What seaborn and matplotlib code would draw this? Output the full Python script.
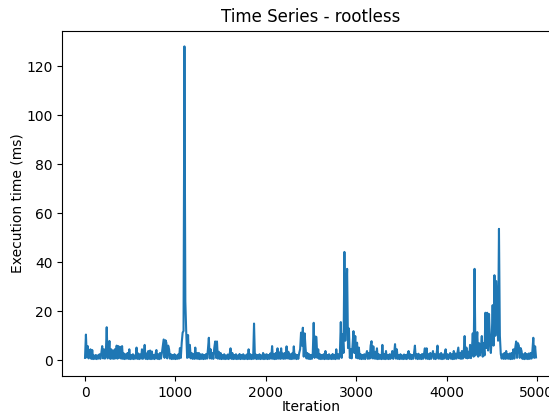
import matplotlib
matplotlib.use("Agg")
import matplotlib.pyplot as plt
import seaborn as sns
import numpy as np
import pandas as pd

# iterations sampled every 10 steps (0..4990)
iterations = list(range(0, 5000, 10))

exec_ms = [
    # 0-190
    1.0, 10.5, 1.2, 5.8, 0.8, 3.0, 4.5, 0.6, 4.2, 0.5, 2.0, 0.6, 2.2, 0.5, 2.0, 0.7, 2.5, 0.6, 2.8, 5.8,
    # 200-390
    0.8, 4.5, 0.7, 2.5, 13.5, 0.8, 3.0, 7.9, 0.6, 4.5, 0.7, 4.0, 0.6, 4.5, 0.8, 6.0, 0.7, 5.8, 1.0, 5.5,
    # 400-590
    0.7, 5.8, 0.6, 2.8, 0.5, 2.5, 0.7, 3.0, 0.6, 4.5, 0.5, 2.2, 0.6, 2.5, 0.5, 2.0, 0.7, 5.2, 0.6, 2.8,
    # 600-790
    0.5, 2.4, 0.7, 4.5, 0.6, 2.6, 6.3, 0.6, 2.8, 0.5, 3.8, 0.6, 4.0, 0.5, 3.6, 0.6, 2.2, 0.5, 2.6, 4.2,
    # 800-990
    0.6, 2.5, 0.5, 3.0, 0.7, 2.8, 5.5, 8.5, 1.0, 8.2, 7.2, 0.8, 6.0, 4.5, 0.7, 2.5, 0.5, 2.2, 0.6, 2.5,
    # 1000-1190
    0.5, 2.0, 0.6, 2.4, 0.7, 5.0, 1.0, 7.2, 11.3, 12.0, 128.0, 24.0, 11.3, 1.0, 10.3, 1.2, 6.3, 0.8, 3.0, 0.6,
    # 1200-1390
    2.5, 0.6, 5.2, 0.7, 3.0, 0.6, 3.0, 0.5, 2.5, 0.6, 2.5, 0.5, 2.2, 0.6, 2.6, 0.7, 4.5, 9.2, 0.8, 4.5,
    # 1400-1590
    0.7, 3.0, 0.6, 5.0, 7.7, 1.0, 7.7, 0.7, 3.5, 0.6, 3.0, 0.5, 2.2, 0.6, 2.5, 0.5, 2.0, 0.6, 2.4, 0.5,
    # 1600-1790
    2.5, 4.9, 0.6, 3.0, 0.5, 2.2, 0.6, 2.5, 0.5, 2.0, 0.6, 2.6, 0.5, 2.2, 0.6, 2.5, 0.5, 2.0, 0.6, 2.4,
    # 1800-1990
    0.5, 4.5, 0.6, 2.5, 0.5, 2.0, 0.6, 15.0, 0.7, 2.4, 0.5, 2.2, 0.6, 2.5, 0.5, 2.0, 0.6, 3.0, 0.5, 2.4,
    # 2000-2190
    0.6, 2.5, 0.5, 2.2, 0.6, 2.8, 0.7, 5.8, 0.6, 2.5, 0.5, 3.0, 0.6, 4.9, 0.7, 3.2, 0.6, 4.9, 0.7, 2.8,
    # 2200-2390
    0.6, 3.0, 0.7, 5.7, 0.8, 3.5, 0.6, 2.5, 0.5, 2.8, 0.6, 5.7, 0.7, 2.4, 0.5, 2.2, 0.6, 3.0, 4.5, 11.3,
    # 2400-2590
    6.0, 13.3, 1.5, 11.0, 5.0, 0.8, 3.0, 0.6, 2.5, 0.5, 2.2, 0.6, 3.0, 15.3, 1.0, 9.7, 9.5, 1.0, 4.5, 0.6,
    # 2600-2790
    2.5, 0.5, 2.2, 0.6, 2.5, 0.5, 3.8, 0.6, 2.2, 0.5, 2.5, 0.6, 2.0, 0.5, 2.6, 0.6, 2.2, 0.5, 4.5, 0.7,
    # 2800-2990
    2.5, 0.6, 3.0, 15.6, 1.0, 10.6, 3.0, 44.2, 8.0, 26.0, 37.3, 5.0, 13.0, 1.0, 4.5, 0.8, 6.0, 11.9, 3.0, 9.9,
    # 3000-3190
    1.0, 7.2, 0.8, 5.2, 0.6, 2.5, 0.5, 2.2, 0.6, 2.5, 0.5, 2.4, 3.8, 0.6, 3.0, 0.7, 6.0, 7.8, 0.8, 5.7,
    # 3200-3390
    0.7, 3.5, 0.6, 4.9, 0.5, 2.5, 0.6, 2.2, 0.5, 6.3, 0.6, 2.5, 0.5, 3.8, 0.6, 2.2, 0.5, 2.5, 0.6, 2.0,
    # 3400-3590
    3.8, 0.6, 2.5, 6.6, 0.7, 4.5, 0.6, 2.2, 0.5, 2.5, 0.6, 2.0, 0.5, 2.4, 0.6, 2.2, 0.5, 2.6, 3.8, 0.6,
    # 3600-3790
    2.5, 0.5, 2.2, 0.6, 2.8, 6.0, 0.7, 2.5, 0.5, 2.7, 0.6, 2.2, 0.5, 2.6, 0.6, 2.4, 4.9, 0.7, 4.9, 0.6,
    # 3800-3990
    2.5, 0.5, 3.0, 0.6, 2.2, 3.8, 0.6, 2.5, 0.5, 2.8, 6.0, 0.7, 2.5, 0.6, 3.0, 0.5, 2.4, 0.6, 2.8, 4.5,
    # 4000-4190
    0.6, 2.5, 0.5, 2.2, 3.0, 0.6, 2.5, 0.5, 3.8, 0.6, 2.8, 0.7, 3.0, 5.2, 0.8, 3.0, 0.6, 3.8, 0.7, 3.0,
    # 4200-4390
    9.9, 1.0, 5.2, 0.8, 3.5, 1.0, 6.3, 0.9, 4.0, 11.0, 1.5, 37.3, 2.0, 6.0, 11.5, 1.5, 7.0, 2.0, 5.0, 9.9,
    # 4400-4590
    1.5, 7.0, 2.0, 19.4, 5.0, 19.4, 4.0, 18.9, 8.5, 3.0, 9.0, 22.5, 6.0, 34.7, 10.0, 32.3, 19.4, 8.0, 53.6, 10.0,
    # 4600-4790
    2.6, 0.7, 2.5, 0.6, 3.0, 0.6, 3.8, 0.7, 2.5, 0.6, 2.8, 0.5, 3.0, 0.6, 4.5, 0.7, 5.0, 7.7, 1.0, 7.0,
    # 4800-4990
    6.0, 1.0, 5.0, 3.8, 0.6, 2.5, 0.5, 3.0, 0.6, 2.5, 0.5, 2.8, 0.6, 3.0, 0.7, 4.0, 9.2, 1.0, 5.7, 1.2,
]

x_ticks = [0, 1000, 2000, 3000, 4000, 5000]
y_ticks = [0, 20, 40, 60, 80, 100, 120]

df = pd.DataFrame({"Iteration": iterations, "Execution time (ms)": exec_ms})

fig = plt.figure(figsize=(5.49, 4.13), dpi=100)
ax = fig.add_axes([0.1137, 0.0895, 0.9053, 0.8362])
sns.lineplot(data=df, x="Iteration", y="Execution time (ms)", ax=ax,
             color="#1f77b4", linewidth=1.5, estimator=None)
ax.set_xlim(-250, 5249)
ax.set_ylim(-6.4, 134.4)
ax.set_xticks(x_ticks)
ax.set_yticks(y_ticks)
ax.set_title("Time Series - rootless", fontsize=12)
ax.set_xlabel("Iteration", labelpad=0.5)
ax.set_ylabel("Execution time (ms)", labelpad=1.5)
fig.savefig("out.png", dpi=100)
